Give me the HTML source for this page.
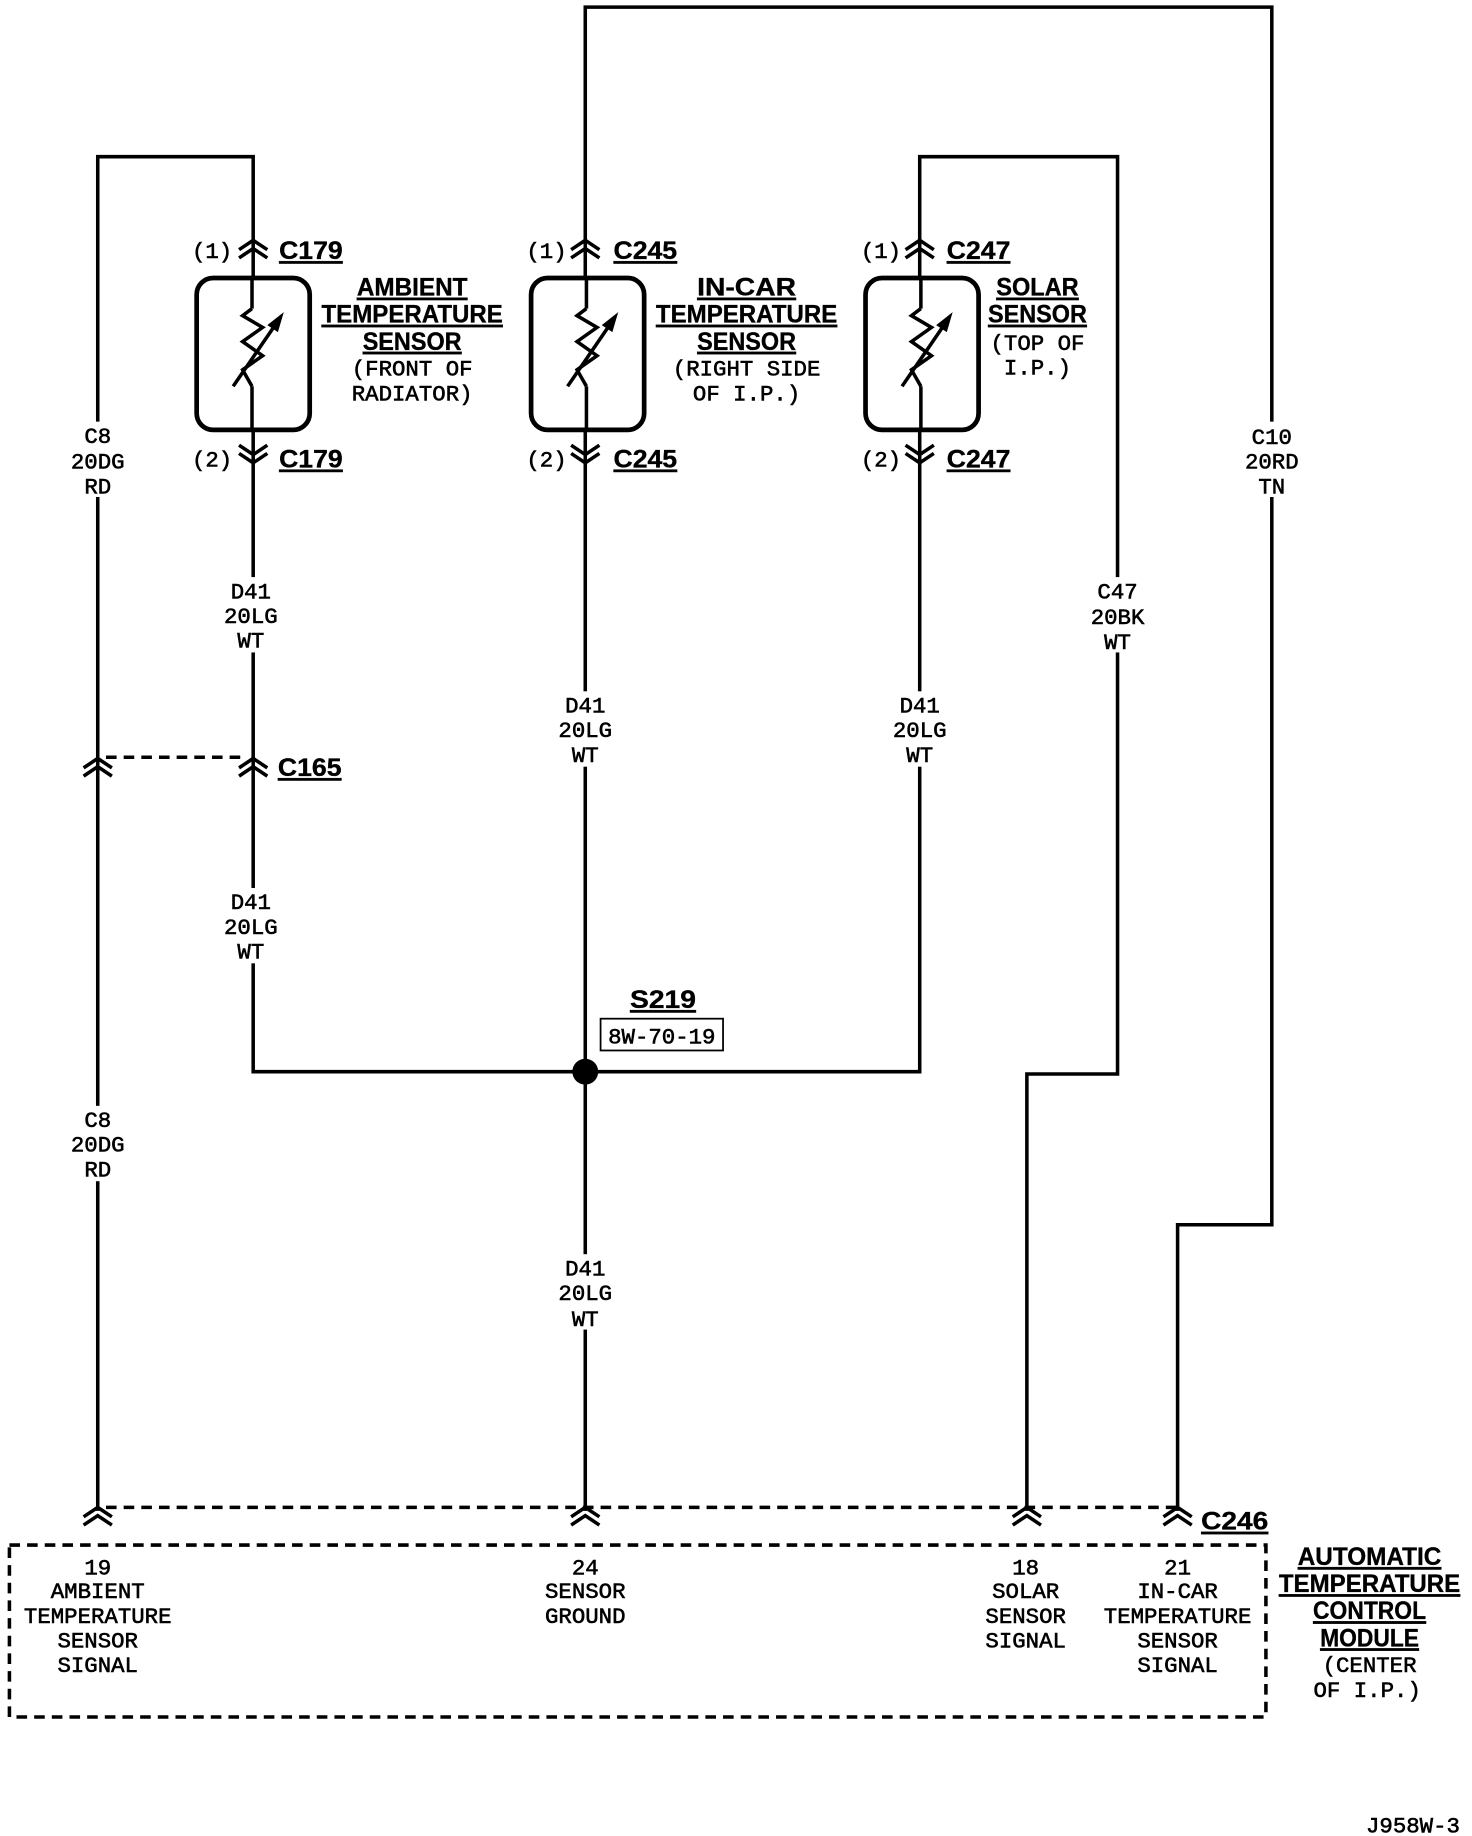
<!DOCTYPE html>
<html><head><meta charset="utf-8"><style>
html,body{margin:0;padding:0;background:#fff;}
svg{display:block;}
text{font-family:"Liberation Mono",monospace;font-size:19px;fill:#000;stroke:#000;stroke-width:0.5px;}
.b{font-family:"Liberation Sans",sans-serif;font-weight:bold;font-size:21px;text-decoration:underline;stroke-width:0.3px;}
.c{text-anchor:middle;}
</style></head><body>
<svg width="1472" height="1836" viewBox="0 0 1250 1559" xmlns="http://www.w3.org/2000/svg">
<defs>
<g id="up"><polyline points="-12,4 0,-4 12,4" fill="none" stroke="#000" stroke-width="3"/><polyline points="-12,11 0,3 12,11" fill="none" stroke="#000" stroke-width="3"/></g>
<g id="dn"><polyline points="-12,-4 0,4 12,-4" fill="none" stroke="#000" stroke-width="3"/><polyline points="-12,-11 0,-3 12,-11" fill="none" stroke="#000" stroke-width="3"/></g>
<g id="res">
<rect x="-47" y="236" width="96" height="129" rx="14" fill="none" stroke="#000" stroke-width="4"/>
<polyline points="0,262 -8,268 9,278 -8,290 9,302 -8,314 0,328" fill="none" stroke="#000" stroke-width="3"/>
<line x1="-16" y1="328" x2="21" y2="274" stroke="#000" stroke-width="3"/>
<polygon points="27,265 13,276 22,282" fill="#000"/>
</g>
</defs>
<g fill="none" stroke="#000" stroke-width="3">
<polyline points="83,1283 83,133 215,133 215,910 781,910 781,133 949,133 949,912 872,912 872,1283"/>
<polyline points="497,1283 497,6 1080,6 1080,1040 1000,1040 1000,1283"/>
<g stroke-dasharray="9,6">
<line x1="90" y1="643" x2="210" y2="643"/>
<line x1="90" y1="1280" x2="1000" y2="1280"/>
<rect x="8" y="1312" width="1067" height="146"/>
</g>
</g>
<circle cx="497" cy="910" r="11" fill="#000"/>
<g fill="#fff"><rect x="166" y="236" width="96" height="129" rx="14"/><rect x="451" y="236" width="96" height="129" rx="14"/><rect x="735" y="236" width="96" height="129" rx="14"/></g>
<use href="#res" x="214"/><use href="#res" x="498"/><use href="#res" x="782"/>
<line x1="214" y1="236" x2="214" y2="262" stroke="#000" stroke-width="3"/>
<line x1="214" y1="328" x2="214" y2="365" stroke="#000" stroke-width="3"/>
<line x1="498" y1="236" x2="498" y2="262" stroke="#000" stroke-width="3"/>
<line x1="498" y1="328" x2="498" y2="365" stroke="#000" stroke-width="3"/>
<line x1="782" y1="236" x2="782" y2="262" stroke="#000" stroke-width="3"/>
<line x1="782" y1="328" x2="782" y2="365" stroke="#000" stroke-width="3"/>
<use href="#up" x="215" y="208"/><use href="#up" x="497" y="208"/><use href="#up" x="781" y="208"/>
<use href="#dn" x="215" y="389"/><use href="#dn" x="497" y="389"/><use href="#dn" x="781" y="389"/>
<use href="#up" x="83" y="648"/><use href="#up" x="215" y="648"/>
<use href="#up" x="83" y="1284"/><use href="#up" x="497" y="1284"/><use href="#up" x="872" y="1284"/><use href="#up" x="1000" y="1284"/>
<text x="163" y="219">(1)</text><text x="237" y="220" class="b" textLength="54" lengthAdjust="spacingAndGlyphs">C179</text>
<text x="163" y="396">(2)</text><text x="237" y="397" class="b" textLength="54" lengthAdjust="spacingAndGlyphs">C179</text>
<text x="447" y="219">(1)</text><text x="521" y="220" class="b" textLength="54" lengthAdjust="spacingAndGlyphs">C245</text>
<text x="447" y="396">(2)</text><text x="521" y="397" class="b" textLength="54" lengthAdjust="spacingAndGlyphs">C245</text>
<text x="731" y="219">(1)</text><text x="804" y="220" class="b" textLength="54" lengthAdjust="spacingAndGlyphs">C247</text>
<text x="731" y="396">(2)</text><text x="804" y="397" class="b" textLength="54" lengthAdjust="spacingAndGlyphs">C247</text>
<text x="236" y="659" class="b" textLength="54" lengthAdjust="spacingAndGlyphs">C165</text>
<text x="1020" y="1299" class="b" textLength="57" lengthAdjust="spacingAndGlyphs">C246</text>
<g class="c">
<text x="350" y="251" class="b c" textLength="94" lengthAdjust="spacingAndGlyphs">AMBIENT</text>
<text x="350" y="274" class="b c" textLength="154" lengthAdjust="spacingAndGlyphs">TEMPERATURE</text>
<text x="350" y="297" class="b c" textLength="84" lengthAdjust="spacingAndGlyphs">SENSOR</text>
<text x="350" y="319" class="c">(FRONT OF</text><text x="350" y="340" class="c">RADIATOR)</text>
<text x="634" y="251" class="b c" textLength="84" lengthAdjust="spacingAndGlyphs">IN-CAR</text>
<text x="634" y="274" class="b c" textLength="154" lengthAdjust="spacingAndGlyphs">TEMPERATURE</text>
<text x="634" y="297" class="b c" textLength="84" lengthAdjust="spacingAndGlyphs">SENSOR</text>
<text x="634" y="319" class="c">(RIGHT SIDE</text><text x="634" y="340" class="c">OF I.P.)</text>
<text x="881" y="251" class="b c" textLength="70" lengthAdjust="spacingAndGlyphs">SOLAR</text>
<text x="881" y="274" class="b c" textLength="84" lengthAdjust="spacingAndGlyphs">SENSOR</text>
<text x="881" y="297" class="c">(TOP OF</text><text x="881" y="318" class="c">I.P.)</text>
</g>
<g fill="#fff">
<rect x="60" y="358" width="48" height="64"/><rect x="60" y="939" width="48" height="64"/>
<rect x="188" y="490" width="50" height="64"/><rect x="188" y="754" width="50" height="64"/>
<rect x="472" y="587" width="50" height="64"/><rect x="472" y="1065" width="50" height="64"/>
<rect x="756" y="587" width="50" height="64"/><rect x="924" y="490" width="50" height="64"/>
<rect x="1055" y="358" width="50" height="64"/>
</g>
<g>
<text x="83" y="376" class="c">C8</text><text x="83" y="398" class="c">20DG</text><text x="83" y="419" class="c">RD</text>
<text x="83" y="957" class="c">C8</text><text x="83" y="978" class="c">20DG</text><text x="83" y="999" class="c">RD</text>
<text x="213" y="508" class="c">D41</text><text x="213" y="529" class="c">20LG</text><text x="213" y="550" class="c">WT</text>
<text x="213" y="772" class="c">D41</text><text x="213" y="793" class="c">20LG</text><text x="213" y="814" class="c">WT</text>
<text x="497" y="605" class="c">D41</text><text x="497" y="626" class="c">20LG</text><text x="497" y="647" class="c">WT</text>
<text x="497" y="1083" class="c">D41</text><text x="497" y="1104" class="c">20LG</text><text x="497" y="1126" class="c">WT</text>
<text x="781" y="605" class="c">D41</text><text x="781" y="626" class="c">20LG</text><text x="781" y="647" class="c">WT</text>
<text x="949" y="508" class="c">C47</text><text x="949" y="530" class="c">20BK</text><text x="949" y="551" class="c">WT</text>
<text x="1080" y="377" class="c">C10</text><text x="1080" y="398" class="c">20RD</text><text x="1080" y="419" class="c">TN</text>
</g>
<text x="563" y="856" class="b c" textLength="56" lengthAdjust="spacingAndGlyphs">S219</text>
<rect x="510" y="865" width="104" height="27" fill="#fff" stroke="#000" stroke-width="1.5"/>
<text x="562" y="886" class="c">8W-70-19</text>
<g>
<text x="83" y="1337" class="c">19</text><text x="83" y="1357" class="c">AMBIENT</text><text x="83" y="1378" class="c">TEMPERATURE</text><text x="83" y="1399" class="c">SENSOR</text><text x="83" y="1420" class="c">SIGNAL</text>
<text x="497" y="1337" class="c">24</text><text x="497" y="1357" class="c">SENSOR</text><text x="497" y="1378" class="c">GROUND</text>
<text x="871" y="1337" class="c">18</text><text x="871" y="1357" class="c">SOLAR</text><text x="871" y="1378" class="c">SENSOR</text><text x="871" y="1399" class="c">SIGNAL</text>
<text x="1000" y="1337" class="c">21</text><text x="1000" y="1357" class="c">IN-CAR</text><text x="1000" y="1378" class="c">TEMPERATURE</text><text x="1000" y="1399" class="c">SENSOR</text><text x="1000" y="1420" class="c">SIGNAL</text>
<text x="1163" y="1329" class="b c" textLength="122" lengthAdjust="spacingAndGlyphs">AUTOMATIC</text>
<text x="1163" y="1352" class="b c" textLength="154" lengthAdjust="spacingAndGlyphs">TEMPERATURE</text>
<text x="1163" y="1375" class="b c" textLength="96" lengthAdjust="spacingAndGlyphs">CONTROL</text>
<text x="1163" y="1398" class="b c" textLength="84" lengthAdjust="spacingAndGlyphs">MODULE</text>
<text x="1163" y="1420" class="c">(CENTER</text><text x="1161" y="1441" class="c">OF I.P.)</text>
</g>
<text x="1160" y="1556" font-size="17">J958W-3</text>
</svg>
</body></html>
